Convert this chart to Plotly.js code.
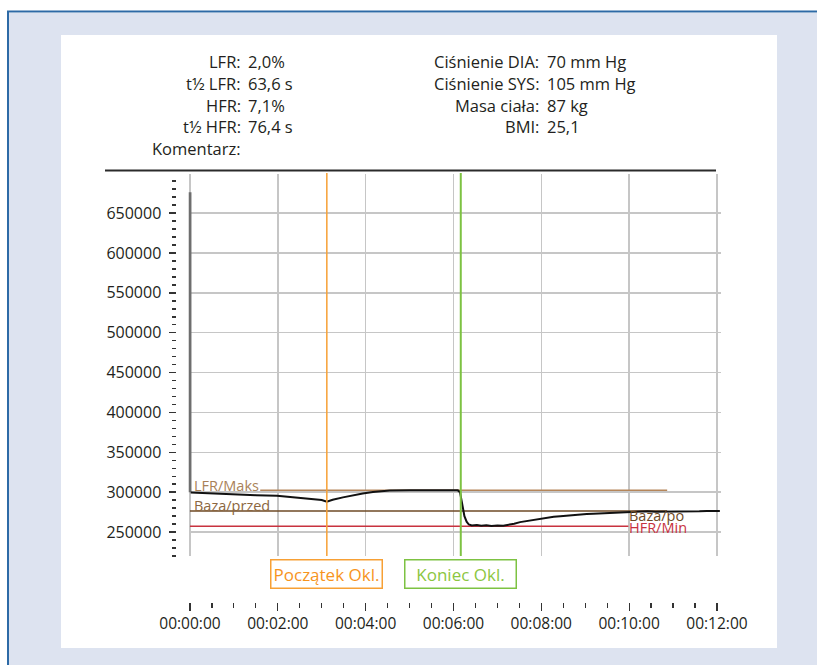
<!DOCTYPE html>
<html><head><meta charset="utf-8">
<script src="https://cdn.plot.ly/plotly-3.0.1.min.js"></script>
<style>html,body{margin:0;padding:0;background:#fff}#chart{width:817px;height:665px}</style>
</head><body><div id="chart"></div>
<script>
// ---- data ----
const curveSeconds = [1, 20, 40, 64, 90, 119, 140, 154, 170, 180, 187, 195, 209, 222, 236, 250, 273, 300, 330, 366,
  369, 371, 373, 375, 378, 381, 385, 392, 398, 405, 412, 420, 428, 436, 443, 451, 460, 470, 478, 488, 497,
  506, 515, 524, 533, 542, 551, 560, 570, 580, 588, 598, 607, 615, 625, 636, 648, 660, 672, 684, 696, 706, 715, 724];
const curveValues = [299700, 298800, 298000, 297200, 296300, 295500, 293500, 292000, 290800, 290200, 288000, 290500,
  293500, 296000, 298500, 300200, 302000, 302300, 302300, 302300,
  300000, 290000, 280000, 270000, 263000, 259500, 258200, 258800, 257800, 258600, 257700, 258400, 258000, 259200,
  260500, 262500, 263800, 265600, 267000, 268400, 269200, 270000, 270900, 271600, 272100, 272800, 273000, 273400,
  273900, 274200, 274600, 275000, 275600, 276200, 276000, 275600, 275500, 275400, 275600, 275800, 276000, 276500, 276600, 276400];
const spikeSeconds = [0, 0];
const spikeValues = [676000, 300000];

const refLineNames = ['LFR/Maks', 'Baza', 'HFR/Min'];
const refLineValues = [302300, 276300, 257200];
const refLineFrom = [96, 0, 0];
const refLineTo = [652, 652, 599];

const refLabelTexts = ['LFR/Maks', 'Baza/przed', 'Baza/po', 'HFR/Min'];
const refLabelSeconds = [4, 4, 599, 599];
const refLabelValues = [302300, 276300, 276300, 257200];

const eventNames = ['Początek Okl.', 'Koniec Okl.'];
const eventSeconds = [187, 370];

const yTickValues = [250000, 300000, 350000, 400000, 450000, 500000, 550000, 600000, 650000];
const xTickSeconds = [0, 120, 240, 360, 480, 600, 720];
const xTickLabels = ['00:00:00', '00:02:00', '00:04:00', '00:06:00', '00:08:00', '00:10:00', '00:12:00'];

const leftLabels = ['LFR:', 't½ LFR:', 'HFR:', 't½ HFR:', 'Komentarz:'];
const leftValues = ['2,0%', '63,6 s', '7,1%', '76,4 s', ''];
const rightLabels = ['Ciśnienie DIA:', 'Ciśnienie SYS:', 'Masa ciała:', 'BMI:'];
const rightValues = ['70 mm Hg', '105 mm Hg', '87 kg', '25,1'];

// ---- layout helpers (pixel -> paper) ----
const W = 817, H = 665;
const px = x => x / W;
const py = y => 1 - y / H;
const FONT = '"Open Sans", "Noto Sans", sans-serif';
const TXT = '#231f20';

const traces = [
  {x: spikeSeconds, y: spikeValues, type: 'scatter', mode: 'lines',
   line: {color: '#6e6e6e', width: 3}, hoverinfo: 'skip', showlegend: false},
  {x: curveSeconds, y: curveValues, type: 'scatter', mode: 'lines',
   line: {color: '#111111', width: 2}, showlegend: false}
];

const shapes = [
  {type: 'rect', xref: 'paper', yref: 'paper', x0: px(9), x1: px(830), y0: py(13), y1: py(700),
   fillcolor: '#dde3f0', line: {width: 0}, layer: 'below'},
  {type: 'rect', xref: 'paper', yref: 'paper', x0: px(61), x1: px(777), y0: py(35), y1: py(648),
   fillcolor: '#ffffff', line: {width: 0}, layer: 'below'},
  {type: 'line', xref: 'paper', yref: 'paper', x0: px(8), x1: px(8), y0: py(11), y1: py(700),
   line: {color: '#2d6aa6', width: 2}, layer: 'below'},
  {type: 'line', xref: 'paper', yref: 'paper', x0: px(7), x1: px(830), y0: py(11.5), y1: py(11.5),
   line: {color: '#2d6aa6', width: 2}, layer: 'below'},
  {type: 'line', xref: 'paper', yref: 'paper', x0: px(105), x1: px(716), y0: py(170.5), y1: py(170.5),
   line: {color: '#2b2b2b', width: 2}, layer: 'below'}
];

const refColors = ['#b5865a', '#6e4a26', '#c8323f'];
refLineNames.forEach((n, i) => {
  shapes.push({type: 'line', xref: 'x', yref: 'y', x0: refLineFrom[i], x1: refLineTo[i],
    y0: refLineValues[i], y1: refLineValues[i], line: {color: refColors[i], width: 1.5}, layer: 'between'});
});
const eventColors = ['#f7a035', '#7dc242'];
const eventTextColors = ['#f7941d', '#8cc63f'];
eventNames.forEach((n, i) => {
  shapes.push({type: 'line', xref: 'x', yref: 'paper', x0: eventSeconds[i], x1: eventSeconds[i],
    y0: py(556), y1: py(173), line: {color: eventColors[i], width: i === 0 ? 1.5 : 2}, layer: 'above'});
});

const annotations = [];
const HF = 16.5;
leftLabels.forEach((t, i) => {
  const y = py(62 + i * 21.6);
  annotations.push({xref: 'paper', yref: 'paper', x: px(243), y: y, xanchor: 'right', yanchor: 'middle',
    text: t, showarrow: false, font: {family: FONT, size: HF, color: TXT}});
  if (leftValues[i]) annotations.push({xref: 'paper', yref: 'paper', x: px(246), y: y, xanchor: 'left', yanchor: 'middle',
    text: leftValues[i], showarrow: false, font: {family: FONT, size: HF, color: TXT}});
});
rightLabels.forEach((t, i) => {
  const y = py(62 + i * 21.6);
  annotations.push({xref: 'paper', yref: 'paper', x: px(541), y: y, xanchor: 'right', yanchor: 'middle',
    text: t, showarrow: false, font: {family: FONT, size: HF, color: TXT}});
  annotations.push({xref: 'paper', yref: 'paper', x: px(545), y: y, xanchor: 'left', yanchor: 'middle',
    text: rightValues[i], showarrow: false, font: {family: FONT, size: HF, color: TXT}});
});

const refLabelColors = ['#a98158', '#8b6640', '#6e4a26', '#c8323f'];
const refLabelShift = [5, 6, -4, -1];
refLabelTexts.forEach((t, i) => {
  annotations.push({xref: 'x', yref: 'y', x: refLabelSeconds[i], y: refLabelValues[i], xanchor: 'left',
    yanchor: 'middle', yshift: refLabelShift[i], text: t, showarrow: false, borderpad: 0,
    font: {family: FONT, size: 14.5, color: refLabelColors[i]}});
});
eventNames.forEach((t, i) => {
  annotations.push({xref: 'x', yref: 'paper', x: eventSeconds[i], y: py(574), xanchor: 'center', yanchor: 'middle',
    text: t, showarrow: false, bgcolor: '#ffffff', bordercolor: eventColors[i], borderwidth: 1.5, borderpad: 2,
    width: 106, align: 'center',
    font: {family: FONT, size: 17, color: eventTextColors[i]}});
});

const layout = {
  width: W, height: H,
  margin: {l: 0, r: 0, t: 0, b: 0},
  paper_bgcolor: '#ffffff',
  plot_bgcolor: 'rgba(0,0,0,0)',
  showlegend: false,
  font: {family: FONT, color: TXT},
  xaxis: {
    domain: [px(188.5), px(720.6)],
    range: [-2, 725],
    anchor: 'free', position: py(601.5),
    tickmode: 'array', tickvals: xTickSeconds, ticktext: xTickLabels,
    ticks: 'outside', ticklen: 8, tickwidth: 1.2, tickcolor: '#333',
    showgrid: true, gridcolor: '#c6c6c6', gridwidth: 1.5,
    zeroline: false, showline: false,
    tickfont: {family: FONT, size: 15.5, color: TXT},
    minor: {tickmode: 'linear', tick0: 0, dtick: 30, ticks: 'outside', ticklen: 5, tickwidth: 1.2, tickcolor: '#333', showgrid: false}
  },
  yaxis: {
    domain: [py(556), py(174)],
    range: [220000, 699000],
    anchor: 'free', position: px(175.5),
    tickmode: 'array', tickvals: yTickValues,
    tickformat: 'd',
    ticks: 'outside', ticklen: 7, tickwidth: 1.5, tickcolor: '#333',
    ticklabelstandoff: 4,
    showgrid: true, gridcolor: '#c6c6c6', gridwidth: 1.5,
    zeroline: false, showline: false,
    tickfont: {family: FONT, size: 16, color: TXT},
    minor: {tickmode: 'linear', tick0: 0, dtick: 10000, ticks: 'outside', ticklen: 3.5, tickwidth: 1.5, tickcolor: '#333', showgrid: false}
  },
  shapes: shapes,
  annotations: annotations
};

Plotly.newPlot('chart', traces, layout, {displayModeBar: false, staticPlot: true});
</script>
</body></html>
